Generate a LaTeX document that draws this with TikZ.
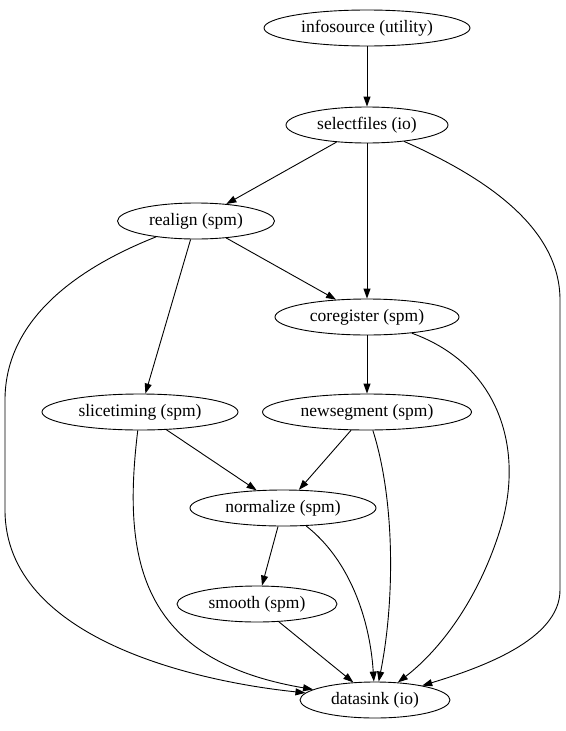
\documentclass[tikz,border=0pt]{standalone}
\usepackage{fontspec}
\setmainfont{Liberation Serif}
\usetikzlibrary{shapes.geometric,arrows.meta}
\begin{document}
\begin{tikzpicture}[x=1pt,y=-1pt,
  nd/.style={ellipse,draw,line width=0.9pt,inner sep=0pt,minimum height=36pt,font=\fontsize{17.5}{20}\selectfont},
  ed/.style={line width=0.9pt,-{Triangle[length=10pt,width=7pt]}}]
\useasboundingbox (0,0) rectangle (565,731);
\node[nd,minimum width=206pt] (info) at (367,28) {infosource (utility)};
\node[nd,minimum width=162pt] (sel) at (367,125) {selectfiles (io)};
\node[nd,minimum width=157pt] (real) at (196,221) {realign (spm)};
\node[nd,minimum width=184pt] (coreg) at (367,317) {coregister (spm)};
\node[nd,minimum width=196pt] (slice) at (140,412) {slicetiming (spm)};
\node[nd,minimum width=209pt] (newseg) at (367,412) {newsegment (spm)};
\node[nd,minimum width=186pt] (norm) at (283,508) {normalize (spm)};
\node[nd,minimum width=160pt] (smooth) at (257,604) {smooth (spm)};
\node[nd,minimum width=150pt] (sink) at (375,700) {datasink (io)};

\draw[ed] (info) -- (sel);
\draw[ed] (sel) -- (real);
\draw[ed] (sel) -- (coreg);
\draw[ed] (sel) .. controls (480,175) and (560,225) .. (560,300) -- (560,590) .. controls (560,640) and (480,668) .. (sink);
\draw[ed] (real) -- (coreg);
\draw[ed] (real) -- (slice);
\draw[ed] (real) .. controls (60,275) and (5,330) .. (5,400) -- (5,510) .. controls (5,640) and (200,682) .. (sink);
\draw[ed] (coreg) -- (newseg);
\draw[ed] (coreg) .. controls (500,365) and (525,450) .. (500,530) .. controls (478,600) and (440,650) .. (sink);
\draw[ed] (slice) -- (norm);
\draw[ed] (slice) .. controls (122,560) and (140,660) .. (sink);
\draw[ed] (newseg) -- (norm);
\draw[ed] (newseg) .. controls (395,500) and (395,600) .. (sink);
\draw[ed] (norm) -- (smooth);
\draw[ed] (norm) .. controls (350,560) and (370,620) .. (sink);
\draw[ed] (smooth) -- (sink);
\end{tikzpicture}
\end{document}
